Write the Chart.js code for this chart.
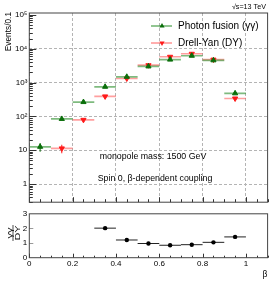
<!DOCTYPE html>
<html>
<head>
<meta charset="utf-8">
<script src="https://cdn.jsdelivr.net/npm/chart.js@4/dist/chart.umd.min.js"></script>
<style>
  html, body { margin: 0; padding: 0; background: #fff; }
  #wrap { position: relative; width: 274px; height: 281px; overflow: hidden; }
  #topChart { position: absolute; left: 0; top: 0; z-index: 1; }
  #ratioChart { position: absolute; left: 0; top: 207px; z-index: 2; }
</style>
</head>
<body>
<div id="wrap">
  <canvas id="topChart" width="274" height="209"></canvas>
  <canvas id="ratioChart" width="274" height="74"></canvas>
</div>
<script>
// beta bins, width 0.1
const binCenters = [0.05, 0.15, 0.25, 0.35, 0.45, 0.55, 0.65, 0.75, 0.85, 0.95];
const binHalfWidth = 0.05;

// events / 0.1
const photonFusion = [12.6, 84, 265, 750, 1480, 3000, 4770, 6200, 4540, 480];
const photonFusionErr = [3.6, 6, 10, 18, 30, 45, 55, 65, 55, 18];
const drellYan = [null, 11.3, 79, 390, 1320, 3260, 5790, 7100, 4770, 338];
const drellYanErr = [null, 3.2, 5, 12, 25, 40, 55, 60, 50, 12];

// gamma-gamma / DY ratio
const ratioCenters = [0.35, 0.45, 0.55, 0.65, 0.75, 0.85, 0.95];
const ratioValues = [2.02, 1.21, 0.97, 0.85, 0.89, 1.05, 1.42];

const xTickValues = [0, 0.2, 0.4, 0.6, 0.8, 1];
const xTickLabels = ['0', '0.2', '0.4', '0.6', '0.8', '1'];
const decadeLabels = ['1', '10', '10\u00b2', '10\u00b3', '10\u2074', '10\u2075'];
const ratioTickLabels = ['0', '1', '2', '3'];

const FONT = "'Liberation Sans', Arial, sans-serif";
const GREEN = '#0a6e0a';
const GREEN_BAR = 'rgba(40,140,40,0.6)';
const RED = '#ff1a1a';
const RED_BAR = 'rgba(255,80,80,0.55)';
const GRID = '#b4b4b4';

function toPoints(xs, ys) {
    return xs.map((x, i) => ({ x: x, y: ys[i] })).filter(p => p.y !== null);
}

function isDecade(v) {
    const e = Math.log10(v);
    return Math.abs(e - Math.round(e)) < 1e-9;
}

// horizontal bin-width bars and vertical error bars
function drawErrorBars(chart, ctx, values, errors, barColor, markColor) {
    const xs = chart.scales.x, ys = chart.scales.y;
    binCenters.forEach((c, i) => {
        const v = values[i];
        if (v === null) return;
        const py = ys.getPixelForValue(v);
        ctx.strokeStyle = barColor;
        ctx.lineWidth = 1.7;
        ctx.beginPath();
        ctx.moveTo(xs.getPixelForValue(c - binHalfWidth), py);
        ctx.lineTo(xs.getPixelForValue(c + binHalfWidth), py);
        ctx.stroke();
        if (errors[i]) {
            const px = xs.getPixelForValue(c);
            ctx.strokeStyle = markColor;
            ctx.lineWidth = 1;
            ctx.beginPath();
            ctx.moveTo(px, ys.getPixelForValue(v - errors[i]));
            ctx.lineTo(px, ys.getPixelForValue(v + errors[i]));
            ctx.stroke();
        }
    });
}

function drawXTicksInward(chart, ctx, major, minor) {
    const xs = chart.scales.x, a = chart.chartArea;
    ctx.strokeStyle = '#333';
    ctx.lineWidth = 1;
    ctx.beginPath();
    for (let k = 0; k <= 22; k++) {
        const v = k * 0.05;
        const px = Math.round(xs.getPixelForValue(v)) + 0.5;
        const len = (k % 4 === 0) ? major : minor;
        ctx.moveTo(px, a.bottom);
        ctx.lineTo(px, a.bottom - len);
    }
    ctx.stroke();
}

function drawFrame(ctx, a) {
    ctx.strokeStyle = '#444';
    ctx.lineWidth = 1;
    ctx.strokeRect(a.left, a.top, a.right - a.left, a.bottom - a.top);
}

const topPlugin = {
    id: 'topDecor',
    beforeDraw(chart) {
        const ctx = chart.ctx;
        ctx.save();
        ctx.fillStyle = '#fff';
        ctx.fillRect(0, 0, chart.width, chart.height);
        ctx.restore();
    },
    beforeDatasetsDraw(chart) {
        const ctx = chart.ctx, a = chart.chartArea;
        ctx.save();
        ctx.beginPath();
        ctx.rect(a.left, a.top, a.right - a.left, a.bottom - a.top);
        ctx.clip();
        drawErrorBars(chart, ctx, drellYan, drellYanErr, RED_BAR, RED);
        drawErrorBars(chart, ctx, photonFusion, photonFusionErr, GREEN_BAR, GREEN);
        ctx.restore();
    },
    afterDraw(chart) {
        const ctx = chart.ctx, a = chart.chartArea, ys = chart.scales.y;
        ctx.save();

        // log axis ticks, pointing into the frame
        ctx.strokeStyle = '#333';
        ctx.lineWidth = 1;
        ctx.beginPath();
        for (let e = -1; e <= 5; e++) {
            for (let m = 1; m <= 9; m++) {
                const v = m * Math.pow(10, e);
                if (v < ys.min || v > ys.max) continue;
                const py = Math.round(ys.getPixelForValue(v)) + 0.5;
                ctx.moveTo(a.left, py);
                ctx.lineTo(a.left + (m === 1 ? 7 : 3.5), py);
            }
        }
        ctx.stroke();
        drawXTicksInward(chart, ctx, 5, 3);
        drawFrame(ctx, a);

        // legend
        const legendRows = [
            { y: 26, text: 'Photon fusion (\u03b3\u03b3)', bar: GREEN_BAR, mark: GREEN, rot: 0 },
            { y: 43, text: 'Drell-Yan (DY)', bar: RED_BAR, mark: RED, rot: 180 }
        ];
        legendRows.forEach(r => {
            ctx.strokeStyle = r.bar;
            ctx.lineWidth = 1.7;
            ctx.beginPath();
            ctx.moveTo(151, r.y);
            ctx.lineTo(172, r.y);
            ctx.stroke();
            ctx.fillStyle = r.mark;
            ctx.strokeStyle = r.mark;
            ctx.lineWidth = 1;
            Chart.helpers.drawPoint(ctx, { pointStyle: 'triangle', radius: 3, rotation: r.rot }, 162, r.y);
            ctx.fillStyle = '#000';
            ctx.font = '10px ' + FONT;
            ctx.textAlign = 'left';
            ctx.textBaseline = 'middle';
            ctx.fillText(r.text, 178, r.y + 0.5);
        });

        // annotations
        ctx.fillStyle = '#000';
        ctx.textAlign = 'center';
        ctx.font = '8.8px ' + FONT;
        ctx.fillText('monopole mass: 1500 GeV', 153, 157);
        ctx.fillText('Spin 0, \u03b2-dependent coupling', 155, 179);
        ctx.textAlign = 'right';
        ctx.font = '7.2px ' + FONT;
        ctx.fillText('\u221as=13 TeV', 266, 7);

        // y title, top aligned like ROOT
        ctx.font = '8.3px ' + FONT;
        ctx.translate(8.5, 12);
        ctx.rotate(-Math.PI / 2);
        ctx.textAlign = 'right';
        ctx.textBaseline = 'middle';
        ctx.fillText('Events/0.1', 0, 0);
        ctx.restore();
    }
};

new Chart(document.getElementById('topChart'), {
    type: 'scatter',
    data: {
        datasets: [
            {
                label: 'Photon fusion',
                data: toPoints(binCenters, photonFusion),
                pointStyle: 'triangle',
                pointRadius: 3,
                pointBackgroundColor: GREEN,
                pointBorderColor: GREEN,
                pointBorderWidth: 1
            },
            {
                label: 'Drell-Yan',
                data: toPoints(binCenters, drellYan),
                pointStyle: 'triangle',
                pointRotation: 180,
                pointRadius: 3,
                pointBackgroundColor: RED,
                pointBorderColor: RED,
                pointBorderWidth: 1
            }
        ]
    },
    options: {
        responsive: false,
        animation: false,
        devicePixelRatio: 1,
        layout: { padding: { left: 0, top: 13, right: 6.4, bottom: 1.5 } },
        plugins: { legend: { display: false }, tooltip: { enabled: false } },
        scales: {
            x: {
                type: 'linear',
                min: 0,
                max: 1.1,
                ticks: { display: false, stepSize: 0.2, includeBounds: false },
                grid: { color: GRID, lineWidth: 1, drawTicks: false },
                border: { display: false, dash: [3, 2] },
                afterFit(s) { s.height = 0; }
            },
            y: {
                type: 'logarithmic',
                min: 0.29,
                max: 1.14e5,
                ticks: {
                    autoSkip: false,
                    padding: 2,
                    color: '#000',
                    font: { family: FONT, size: 8 },
                    callback(v) {
                        if (!isDecade(v)) return '';
                        const e = Math.round(Math.log10(v));
                        return decadeLabels[e] || '';
                    }
                },
                grid: {
                    drawTicks: false,
                    lineWidth: 1,
                    color(c) {
                        const v = c.tick && c.tick.value;
                        return (v && isDecade(v) && v >= 1 && v < 1e5) ? GRID : 'rgba(0,0,0,0)';
                    }
                },
                border: { display: false, dash: [3, 2] },
                afterFit(s) { s.width = 29.3; }
            }
        }
    },
    plugins: [topPlugin]
});

const ratioPlugin = {
    id: 'ratioDecor',
    beforeDatasetsDraw(chart) {
        const ctx = chart.ctx, xs = chart.scales.x, ys = chart.scales.y;
        ctx.save();
        ctx.strokeStyle = '#222';
        ctx.lineWidth = 1;
        ratioCenters.forEach((c, i) => {
            const py = ys.getPixelForValue(ratioValues[i]);
            ctx.beginPath();
            ctx.moveTo(xs.getPixelForValue(c - binHalfWidth), py);
            ctx.lineTo(xs.getPixelForValue(c + binHalfWidth), py);
            ctx.stroke();
        });
        ctx.restore();
    },
    afterDraw(chart) {
        const ctx = chart.ctx, a = chart.chartArea, xs = chart.scales.x, ys = chart.scales.y;
        ctx.save();
        ctx.strokeStyle = '#999';
        ctx.lineWidth = 1;
        ctx.beginPath();
        [1, 2].forEach(v => {
            const py = Math.round(ys.getPixelForValue(v)) + 0.5;
            ctx.moveTo(a.left, py);
            ctx.lineTo(a.left + 4, py);
        });
        ctx.stroke();
        drawXTicksInward(chart, ctx, 4, 2);
        drawFrame(ctx, a);

        // x tick labels
        ctx.fillStyle = '#000';
        ctx.font = '8px ' + FONT;
        ctx.textAlign = 'center';
        ctx.textBaseline = 'middle';
        xTickValues.forEach((v, i) => {
            ctx.fillText(xTickLabels[i], xs.getPixelForValue(v), 264 - 207);
        });

        // axis title beta
        ctx.font = '8.5px ' + FONT;
        ctx.fillText('\u03b2', 265, 274.5 - 207);

        // y title as a rotated fraction
        ctx.translate(13, 233 - 207);
        ctx.rotate(-Math.PI / 2);
        ctx.scale(1.45, 1);
        ctx.font = '7.5px ' + FONT;
        ctx.textBaseline = 'alphabetic';
        ctx.fillText('\u03b3\u03b3', 0, -1.3);
        ctx.textBaseline = 'top';
        ctx.fillText('DY', 0, 0.8);
        ctx.strokeStyle = '#000';
        ctx.lineWidth = 0.7;
        ctx.beginPath();
        ctx.moveTo(-5.5, 0);
        ctx.lineTo(5.5, 0);
        ctx.stroke();
        ctx.restore();
    }
};

new Chart(document.getElementById('ratioChart'), {
    type: 'scatter',
    data: {
        datasets: [{
            label: 'ratio',
            data: toPoints(ratioCenters, ratioValues),
            pointStyle: 'circle',
            pointRadius: 2.2,
            pointBackgroundColor: '#000',
            pointBorderColor: '#000',
            pointBorderWidth: 0
        }]
    },
    options: {
        responsive: false,
        animation: false,
        devicePixelRatio: 1,
        layout: { padding: { left: 0, top: 1.5, right: 6.4, bottom: 23.3 } },
        plugins: { legend: { display: false }, tooltip: { enabled: false } },
        scales: {
            x: {
                type: 'linear',
                min: 0,
                max: 1.1,
                ticks: { display: false },
                grid: { display: false, drawTicks: false },
                border: { display: false },
                afterFit(s) { s.height = 0; }
            },
            y: {
                min: 0,
                max: 3,
                ticks: {
                    stepSize: 1,
                    autoSkip: false,
                    padding: 2,
                    color: '#000',
                    font: { family: FONT, size: 8 },
                    callback(v) { return ratioTickLabels[v] || ''; }
                },
                grid: { display: false, drawTicks: false },
                border: { display: false },
                afterFit(s) { s.width = 29.3; }
            }
        }
    },
    plugins: [ratioPlugin]
});
</script>
</body>
</html>
